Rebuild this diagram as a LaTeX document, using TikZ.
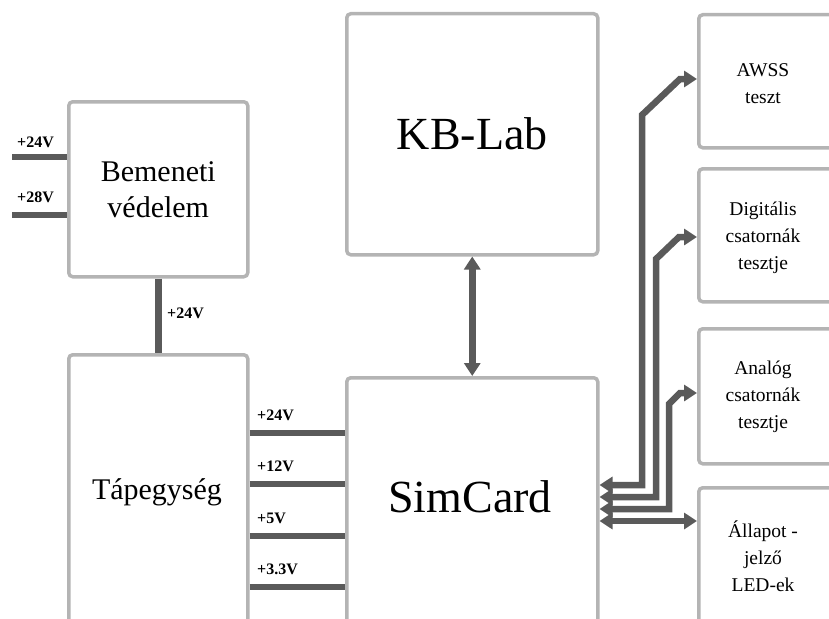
\documentclass[tikz,border=0pt]{standalone}
\usepackage{fontspec}
\setmainfont{Liberation Serif}
\usetikzlibrary{arrows.meta, positioning, calc}
\definecolor{boxgray}{HTML}{B4B4B4}
\definecolor{wiregray}{HTML}{5A5A5A}

\begin{document}
\begin{tikzpicture}[
  x=1pt, y=-1pt,
  block/.style={draw=boxgray, line width=3.5pt, rounded corners=4pt, anchor=north west, inner sep=0pt},
  wire/.style={draw=wiregray, line width=6.5pt},
  bus/.style={wire, {Triangle[length=13pt,width=16pt]}-{Triangle[length=13pt,width=16pt]}},
  volt/.style={font=\bfseries\fontsize{16}{16}\selectfont, anchor=base west, inner sep=0pt},
  bigtxt/.style={font=\fontsize{46}{48}\selectfont},
  midtxt/.style={font=\fontsize{30}{36}\selectfont, align=center},
  smalltxt/.style={font=\fontsize{19.5}{27}\selectfont, align=center}
]
\useasboundingbox (0,0) rectangle (829,618);
\clip (0,0) rectangle (829,618);

% blocks
\node[block, minimum width=179pt, minimum height=175pt, midtxt] (bem) at (67,100) {Bemeneti\\védelem};
\node[block, minimum width=179pt, minimum height=274pt] (tap) at (67,353) {};
\node[block, minimum width=251pt, minimum height=241pt, bigtxt] (kb) at (345,12) {KB-Lab};
\node[block, minimum width=251pt, minimum height=260pt] (sim) at (345,376) {};
\node[block, minimum width=150pt, minimum height=133pt] (awss) at (697,13) {};
\node[block, minimum width=150pt, minimum height=133pt] (dig) at (697,167) {};
\node[block, minimum width=150pt, minimum height=135pt] (ana) at (697,327) {};
\node[block, minimum width=150pt, minimum height=150pt] (all) at (697,486) {};

% texts of the cut-off blocks
\node[midtxt] (tap-t) at (157,492) {Tápegység};
\node[bigtxt] (sim-t) at (470,497) {SimCard};
\node[smalltxt] (awss-t) at (763,84) {AWSS\\teszt};
\node[smalltxt] (dig-t) at (763,238) {Digitális\\csatornák\\tesztje};
\node[smalltxt] (ana-t) at (763,397) {Analóg\\csatornák\\tesztje};
\node[smalltxt] (all-t) at (763,556) {Állapot -\\jelző\\LED-ek};

% supply inputs
\coordinate (in24) at (12,157);
\coordinate (in28) at (12,215);
\draw[wire] (in24) -- (in24 -| bem.west);
\draw[wire] (in28) -- (in28 -| bem.west);
\node[volt] (l-in24) at (17,147) {+24V};
\node[volt] (l-in28) at (17,202) {+28V};

\draw[wire] (bem.south) -- (tap.north);
\node[volt] (l-bt) at (167,318) {+24V};

% supply rails
\foreach \y/\v in {433/+24V, 484/+12V, 536/+5V, 587/+3.3V} {
  \draw[wire] (tap.east |- 0,\y) -- (sim.west |- 0,\y);
  \node[volt] (l-\y) at (257,\y-13) {\v};
}

% buses
\draw[bus] (kb.south) -- (sim.north);
\draw[bus] (sim.east |- 0,485) -- (642,485) -- (642,115) -- (680,79) -- (awss.west |- 0,79);
\draw[bus] (sim.east |- 0,497) -- (656,497) -- (656,259) -- (679,237) -- (dig.west |- 0,237);
\draw[bus] (sim.east |- 0,509) -- (669,509) -- (669,404) -- (680,393) -- (ana.west |- 0,393);
\draw[bus] (sim.east |- 0,521) -- (all.west |- 0,521);
\end{tikzpicture}
\end{document}
